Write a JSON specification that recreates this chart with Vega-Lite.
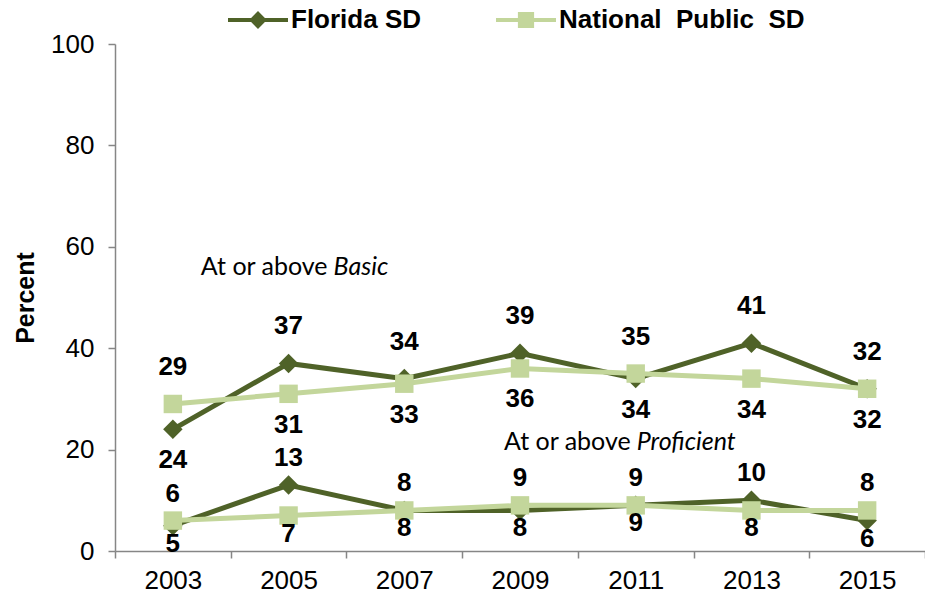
{
  "$schema": "https://vega.github.io/schema/vega-lite/v6.json",
  "width": 810,
  "height": 507,
  "autosize": {"type": "none"},
  "padding": {"left": 115, "top": 44, "right": 0, "bottom": 43},
  "background": "white",
  "config": {"view": {"stroke": null}, "font": "Liberation Sans"},
  "datasets": {
    "scores": [
      {"year": "2003", "series": "Florida SD", "level": "Basic", "value": 24, "side": "below"},
      {"year": "2005", "series": "Florida SD", "level": "Basic", "value": 37, "side": "above"},
      {"year": "2007", "series": "Florida SD", "level": "Basic", "value": 34, "side": "above"},
      {"year": "2009", "series": "Florida SD", "level": "Basic", "value": 39, "side": "above"},
      {"year": "2011", "series": "Florida SD", "level": "Basic", "value": 34, "side": "below"},
      {"year": "2013", "series": "Florida SD", "level": "Basic", "value": 41, "side": "above"},
      {"year": "2015", "series": "Florida SD", "level": "Basic", "value": 32, "side": "below"},
      {"year": "2003", "series": "National Public SD", "level": "Basic", "value": 29, "side": "above"},
      {"year": "2005", "series": "National Public SD", "level": "Basic", "value": 31, "side": "below"},
      {"year": "2007", "series": "National Public SD", "level": "Basic", "value": 33, "side": "below"},
      {"year": "2009", "series": "National Public SD", "level": "Basic", "value": 36, "side": "below"},
      {"year": "2011", "series": "National Public SD", "level": "Basic", "value": 35, "side": "above"},
      {"year": "2013", "series": "National Public SD", "level": "Basic", "value": 34, "side": "below"},
      {"year": "2015", "series": "National Public SD", "level": "Basic", "value": 32, "side": "above"},
      {"year": "2003", "series": "Florida SD", "level": "Proficient", "value": 5, "side": "below"},
      {"year": "2005", "series": "Florida SD", "level": "Proficient", "value": 13, "side": "above"},
      {"year": "2007", "series": "Florida SD", "level": "Proficient", "value": 8, "side": "above"},
      {"year": "2009", "series": "Florida SD", "level": "Proficient", "value": 8, "side": "below"},
      {"year": "2011", "series": "Florida SD", "level": "Proficient", "value": 9, "side": "below"},
      {"year": "2013", "series": "Florida SD", "level": "Proficient", "value": 10, "side": "above"},
      {"year": "2015", "series": "Florida SD", "level": "Proficient", "value": 6, "side": "below"},
      {"year": "2003", "series": "National Public SD", "level": "Proficient", "value": 6, "side": "above"},
      {"year": "2005", "series": "National Public SD", "level": "Proficient", "value": 7, "side": "below"},
      {"year": "2007", "series": "National Public SD", "level": "Proficient", "value": 8, "side": "below"},
      {"year": "2009", "series": "National Public SD", "level": "Proficient", "value": 9, "side": "above"},
      {"year": "2011", "series": "National Public SD", "level": "Proficient", "value": 9, "side": "above"},
      {"year": "2013", "series": "National Public SD", "level": "Proficient", "value": 8, "side": "below"},
      {"year": "2015", "series": "National Public SD", "level": "Proficient", "value": 8, "side": "above"}
    ]
  },
  "encoding": {
    "x": {
      "field": "year", "type": "ordinal",
      "scale": {"paddingInner": 0, "paddingOuter": 0},
      "axis": {
        "title": null, "labelAngle": 0, "labelFont": "Liberation Sans", "labelFontSize": 26,
        "labelColor": "black", "labelPadding": 9, "domainColor": "#868686", "domainWidth": 1.5,
        "tickColor": "#868686", "tickWidth": 1.5, "tickSize": 7, "tickBand": "extent"
      }
    },
    "y": {
      "field": "value", "type": "quantitative",
      "scale": {"domain": [0, 100], "nice": false},
      "axis": {
        "values": [0, 20, 40, 60, 80, 100], "grid": false, "title": "Percent",
        "titleFont": "Liberation Sans", "titleFontSize": 25, "titleFontWeight": "bold", "titleColor": "black",
        "titlePadding": 12, "labelFont": "Liberation Sans", "labelFontSize": 26, "labelColor": "black",
        "labelPadding": 14, "domainColor": "#868686", "domainWidth": 1.5, "tickColor": "#868686",
        "tickWidth": 1.5, "tickSize": 7
      }
    }
  },
  "layer": [
    {
      "data": {"name": "scores"},
      "transform": [{"filter": "datum.series === 'Florida SD'"}],
      "mark": {"type": "line", "strokeWidth": 5},
      "encoding": {
        "detail": {"field": "level"},
        "color": {
          "field": "series", "type": "nominal",
          "scale": {"domain": ["Florida SD", "National Public SD"], "range": ["#4F6228", "#C3D69B"]},
          "legend": {
            "orient": "none", "legendX": 113, "legendY": -54, "direction": "horizontal", "title": null,
            "symbolSize": 3600, "symbolStrokeWidth": 0, "labelFont": "Liberation Sans",
            "labelFontSize": 26, "labelFontWeight": "bold", "labelColor": "black", "labelOffset": 3,
            "labelLimit": 400, "columnPadding": 74,
            "labelExpr": "datum.label === 'Florida SD' ? 'Florida SD' : 'National\u00a0\u00a0Public\u00a0\u00a0SD'",
            "encode": {
              "symbols": {
                "update": {
                  "shape": {"signal": "datum.value === 'Florida SD' ? 'M-1,-0.07L-0.23,-0.07L0,-0.3L0.23,-0.07L1,-0.07L1,0.07L0.23,0.07L0,0.3L-0.23,0.07L-1,0.07Z' : 'M-1,-0.07L-0.27,-0.07L-0.27,-0.27L0.27,-0.27L0.27,-0.07L1,-0.07L1,0.07L0.27,0.07L0.27,0.27L-0.27,0.27L-0.27,0.07L-1,0.07Z'"},
                  "fill": {"signal": "datum.value === 'Florida SD' ? '#4F6228' : '#C3D69B'"},
                  "fillOpacity": {"value": 1},
                  "opacity": {"value": 1},
                  "strokeWidth": {"value": 0}
                }
              }
            }
          }
        }
      }
    },
    {
      "data": {"name": "scores"},
      "transform": [{"filter": "datum.series === 'Florida SD'"}],
      "mark": {"type": "point", "shape": "diamond", "filled": true, "opacity": 1, "size": 380},
      "encoding": {"color": {"field": "series", "type": "nominal"}}
    },
    {
      "data": {"name": "scores"},
      "transform": [{"filter": "datum.series !== 'Florida SD'"}],
      "mark": {"type": "line", "strokeWidth": 5},
      "encoding": {"detail": {"field": "level"}, "color": {"field": "series", "type": "nominal"}}
    },
    {
      "data": {"name": "scores"},
      "transform": [{"filter": "datum.series !== 'Florida SD'"}],
      "mark": {"type": "point", "shape": "square", "filled": true, "opacity": 1, "size": 340},
      "encoding": {"color": {"field": "series", "type": "nominal"}}
    },
    {
      "data": {"name": "scores"},
      "transform": [{"filter": "datum.level === 'Basic' && datum.side === 'above'"}],
      "mark": {"type": "text", "font": "Liberation Sans", "fontSize": 26, "fontWeight": "bold", "color": "black", "dy": -37},
      "encoding": {"text": {"field": "value"}}
    },
    {
      "data": {"name": "scores"},
      "transform": [{"filter": "datum.level === 'Basic' && datum.side === 'below'"}],
      "mark": {"type": "text", "font": "Liberation Sans", "fontSize": 26, "fontWeight": "bold", "color": "black", "dy": 31},
      "encoding": {"text": {"field": "value"}}
    },
    {
      "data": {"name": "scores"},
      "transform": [{"filter": "datum.level === 'Proficient' && datum.side === 'above'"}],
      "mark": {"type": "text", "font": "Liberation Sans", "fontSize": 26, "fontWeight": "bold", "color": "black", "dy": -27},
      "encoding": {"text": {"field": "value"}}
    },
    {
      "data": {"name": "scores"},
      "transform": [{"filter": "datum.level === 'Proficient' && datum.side === 'below'"}],
      "mark": {"type": "text", "font": "Liberation Sans", "fontSize": 26, "fontWeight": "bold", "color": "black", "dy": 18},
      "encoding": {"text": {"field": "value"}}
    },
    {
      "data": {"values": [{"year": "2005", "value": 56, "note": "At or above"}]},
      "mark": {"type": "text", "font": "Lato", "fontSize": 25, "color": "black", "align": "right", "dx": 39},
      "encoding": {"text": {"field": "note"}}
    },
    {
      "data": {"values": [{"year": "2005", "value": 56, "note": "Basic"}]},
      "mark": {"type": "text", "font": "Lato", "fontSize": 25, "fontStyle": "italic", "color": "black", "align": "left", "dx": 45},
      "encoding": {"text": {"field": "note"}}
    },
    {
      "data": {"values": [{"year": "2011", "value": 21.5, "note": "At or above"}]},
      "mark": {"type": "text", "font": "Lato", "fontSize": 25, "color": "black", "align": "right", "dx": -5},
      "encoding": {"text": {"field": "note"}}
    },
    {
      "data": {"values": [{"year": "2011", "value": 21.5, "note": "Proficient"}]},
      "mark": {"type": "text", "font": "Lato", "fontSize": 25, "fontStyle": "italic", "color": "black", "align": "left", "dx": 1},
      "encoding": {"text": {"field": "note"}}
    }
  ]
}
